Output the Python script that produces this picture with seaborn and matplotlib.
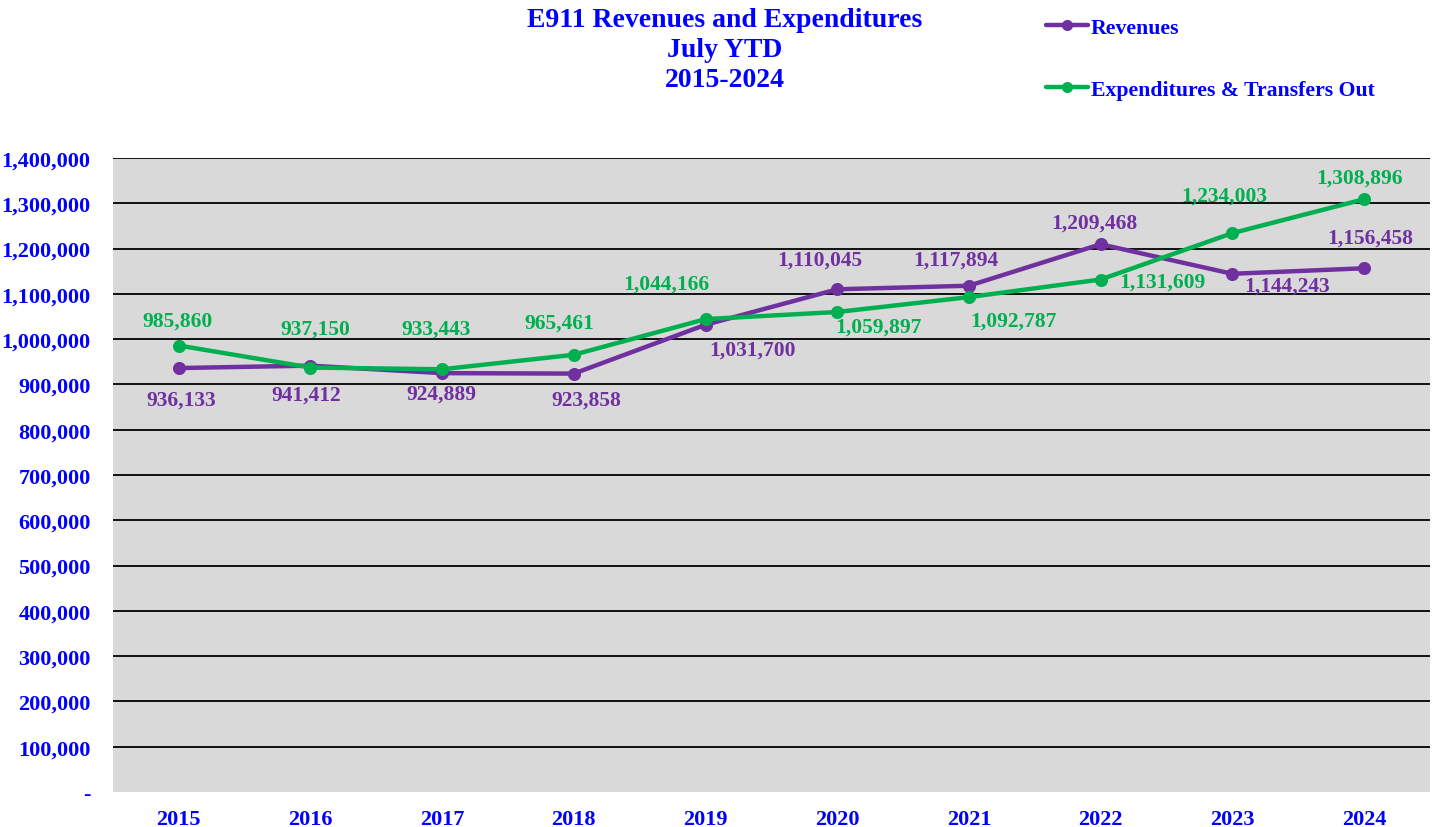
import matplotlib
matplotlib.use("Agg")
import matplotlib.pyplot as plt
from matplotlib.ticker import FuncFormatter, MultipleLocator
from matplotlib.lines import Line2D
import seaborn as sns
import pandas as pd

# Data
years = ["2015", "2016", "2017", "2018", "2019", "2020", "2021", "2022", "2023", "2024"]
revenues = [936133, 941412, 924889, 923858, 1031700, 1110045, 1117894, 1209468, 1144243, 1156458]
expenditures = [985860, 937150, 933443, 965461, 1044166, 1059897, 1092787, 1131609, 1234003, 1308896]
series_names = ["Revenues", "Expenditures & Transfers Out"]
title_lines = ["E911 Revenues and Expenditures", "July YTD", "2015-2024"]

# Styling
colors = ["#7030A0", "#00B050"]
text_blue = "#0000FF"
bg_gray = "#D9D9D9"
# label offsets in pixels (dx, dy) from each point
rev_offsets = [(2, -32), (-4, -29), (-1, -20), (12, -26), (47, -25), (-17, 30), (-13, 26), (-6, 22), (55, -12), (6, 31)]
exp_offsets = [(-1, 25), (5, 39), (-6, 41), (-15, 32), (-39, 36), (41, -15), (45, -23), (62, -2), (-8, 38), (-4, 22)]

df = pd.DataFrame({
    "Year": years * 2,
    "Value": revenues + expenditures,
    "Series": [series_names[0]] * len(years) + [series_names[1]] * len(years),
})

sns.set_theme(style="white")
plt.rcParams["font.family"] = ["Liberation Serif", "DejaVu Serif"]
plt.rcParams["font.weight"] = "bold"

fig = plt.figure(figsize=(14.37, 8.28), dpi=100)
ax = fig.add_axes([0.0786, 0.0423, 0.9164, 0.7657])
ax.set_facecolor(bg_gray)

sns.pointplot(data=df, x="Year", y="Value", hue="Series", order=years,
              hue_order=series_names, palette=colors, markers="o",
              linestyles="-", errorbar=None, legend=False, ax=ax,
              markersize=7, linewidth=3.2)

ax.set_ylim(0, 1400000)
ax.set_xlim(-0.5, len(years) - 0.5)
ax.yaxis.set_major_locator(MultipleLocator(100000))
ax.yaxis.set_major_formatter(FuncFormatter(lambda v, p: "-" if v == 0 else f"{int(v):,}"))
for v in range(100000, 1400001, 100000):
    ax.axhline(v, color="black", linewidth=1.3, zorder=0.5)

for s in ax.spines.values():
    s.set_visible(False)
ax.set_xlabel("")
ax.set_ylabel("")
ax.tick_params(axis="y", length=0, pad=16, labelsize=16, labelcolor=text_blue)
ax.tick_params(axis="x", length=0, pad=12, labelsize=16, labelcolor=text_blue)
for lab in ax.get_xticklabels() + ax.get_yticklabels():
    lab.set_fontweight("bold")

# Data labels
for vals, offs, col in [(revenues, rev_offsets, colors[0]), (expenditures, exp_offsets, colors[1])]:
    for i, (v, (dx, dy)) in enumerate(zip(vals, offs)):
        ax.annotate(f"{v:,}", (i, v), xytext=(dx, dy), textcoords="offset pixels",
                    ha="center", va="center", fontsize=15.5, fontweight="bold",
                    color=col, zorder=5)

# Title
fig.text(0.5045, 0.990, "\n".join(title_lines), ha="center", va="top",
         fontsize=20, fontweight="bold", color=text_blue, linespacing=1.25)

# Legend
handles = [Line2D([], [], color=c, marker="o", linewidth=3.2, markersize=7) for c in colors]
leg = fig.legend(handles, series_names, loc="upper left", bbox_to_anchor=(0.722, 0.988),
                 frameon=False, fontsize=15.7, handlelength=1.93, handletextpad=0.1,
                 labelspacing=1.91, borderaxespad=0)
for t in leg.get_texts():
    t.set_color(text_blue)
    t.set_fontweight("bold")

fig.savefig("out.png", dpi=100)
